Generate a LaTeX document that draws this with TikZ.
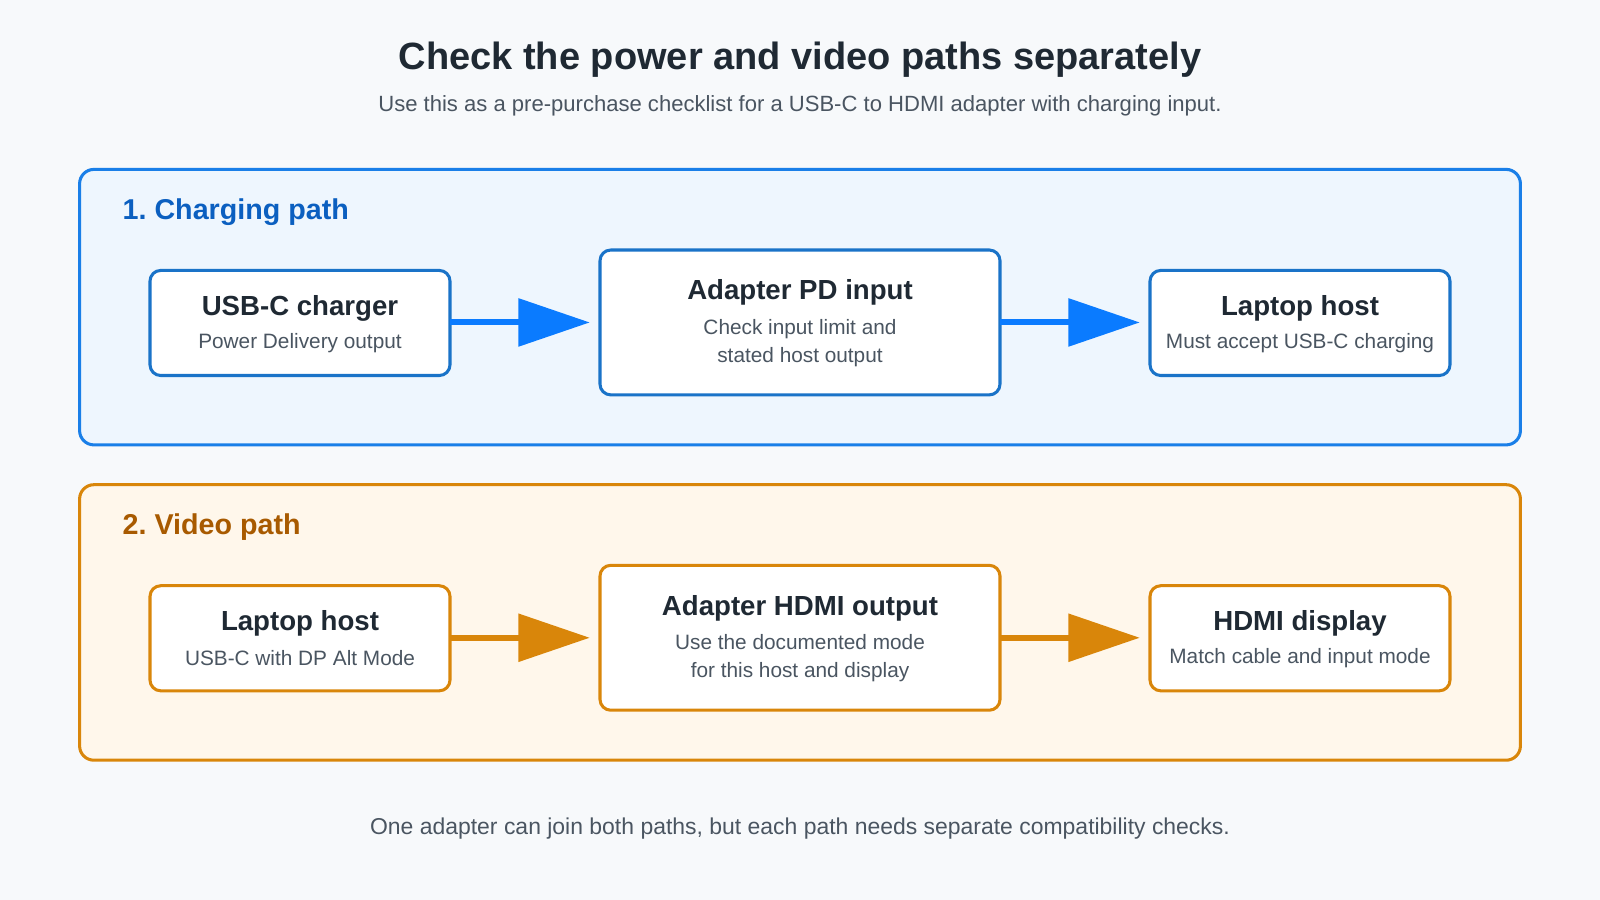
\documentclass[tikz,border=0pt]{standalone}
\usepackage{fontspec}
\setmainfont{Liberation Sans}
\usetikzlibrary{arrows.meta,positioning}
\definecolor{bgc}{HTML}{F7F9FB}
\definecolor{inkc}{HTML}{1F2933}
\definecolor{subc}{HTML}{4A5561}
\definecolor{blueln}{HTML}{1A7FE8}
\definecolor{bluefl}{HTML}{EEF6FE}
\definecolor{bluebx}{HTML}{1A73C8}
\definecolor{bluear}{HTML}{0A7BFF}
\definecolor{bluehd}{HTML}{0B5FC0}
\definecolor{orgln}{HTML}{D9860A}
\definecolor{orgfl}{HTML}{FFF7EB}
\definecolor{orghd}{HTML}{A85A00}
\tikzset{
  panel/.style={draw=#1, line width=1.7pt, rounded corners=8pt},
  step/.style={draw=#1, fill=white, line width=1.7pt, rounded corners=6pt},
  ttl/.style={font=\bfseries\fontsize{15.4}{18}\selectfont, text=inkc},
  sub/.style={font=\fontsize{11.6}{15.4}\selectfont, text=subc, align=center},
  flow/.style={draw=#1, line width=3.4pt, shorten >=0.2cm,
    -{Triangle[length=1.4cm,width=0.92cm,fill=#1]}}
}
\begin{document}
\begin{tikzpicture}[x=0.02cm,y=-0.02cm]
\fill[bgc] (0,0) rectangle (1568,882);
\useasboundingbox (0,0) rectangle (1568,882);
% heading
\node[font=\bfseries\fontsize{21.2}{24}\selectfont, text=inkc] (title) at (784,58) {Check the power and video paths separately};
\node[font=\fontsize{12.3}{14}\selectfont, text=subc] (subtitle) at (784,104) {Use this as a pre-purchase checklist for a USB-C to HDMI adapter with charging input.};
% charging path
\draw[panel=blueln, fill=bluefl] (78,166) rectangle (1490,436);
\node[anchor=west, font=\bfseries\fontsize{16}{19}\selectfont, text=bluehd] (hdA) at (114,208) {1.~Charging path};
\draw[step=bluebx] (147,265) rectangle (441,368);
\draw[step=bluebx] (588,245) rectangle (980,387);
\draw[step=bluebx] (1127,265) rectangle (1421,368);
\coordinate (charger) at (441,316);
\coordinate (pdin) at (588,316);
\coordinate (pdout) at (980,316);
\coordinate (hostA) at (1127,316);
\node[ttl] (chargerT) at (294,302) {USB-C charger};
\node[sub] (chargerS) at (294,336) {Power Delivery output};
\node[ttl] (pdT) at (784,287) {Adapter PD input};
\node[sub] (pdS) at (784,336) {Check input limit and\\stated host output};
\node[ttl] (hostAT) at (1274,302) {Laptop host};
\node[sub] (hostAS) at (1274,336) {Must accept USB-C charging};
\draw[flow=bluear] (charger) -- (pdin);
\draw[flow=bluear] (pdout) -- (hostA);
% video path
\draw[panel=orgln, fill=orgfl] (78,475) rectangle (1490,745);
\node[anchor=west, font=\bfseries\fontsize{16}{19}\selectfont, text=orghd] (hdB) at (114,517) {2.~Video path};
\draw[step=orgln] (147,574) rectangle (441,677);
\draw[step=orgln] (588,554) rectangle (980,696);
\draw[step=orgln] (1127,574) rectangle (1421,677);
\coordinate (hostB) at (441,625);
\coordinate (hdmiin) at (588,625);
\coordinate (hdmiout) at (980,625);
\coordinate (display) at (1127,625);
\node[ttl] (hostBT) at (294,611) {Laptop host};
\node[sub] (hostBS) at (294,645) {USB-C with DP Alt Mode};
\node[ttl] (hdmiT) at (784,596) {Adapter HDMI output};
\node[sub] (hdmiS) at (784,645) {Use the documented mode\\for this host and display};
\node[ttl] (displayT) at (1274,611) {HDMI display};
\node[sub] (displayS) at (1274,645) {Match cable and input mode};
\draw[flow=orgln] (hostB) -- (hdmiin);
\draw[flow=orgln] (hdmiout) -- (display);
% footer
\node[font=\fontsize{12.8}{15}\selectfont, text=subc] (note) at (784,812) {One adapter can join both paths, but each path needs separate compatibility checks.};
\end{tikzpicture}
\end{document}
